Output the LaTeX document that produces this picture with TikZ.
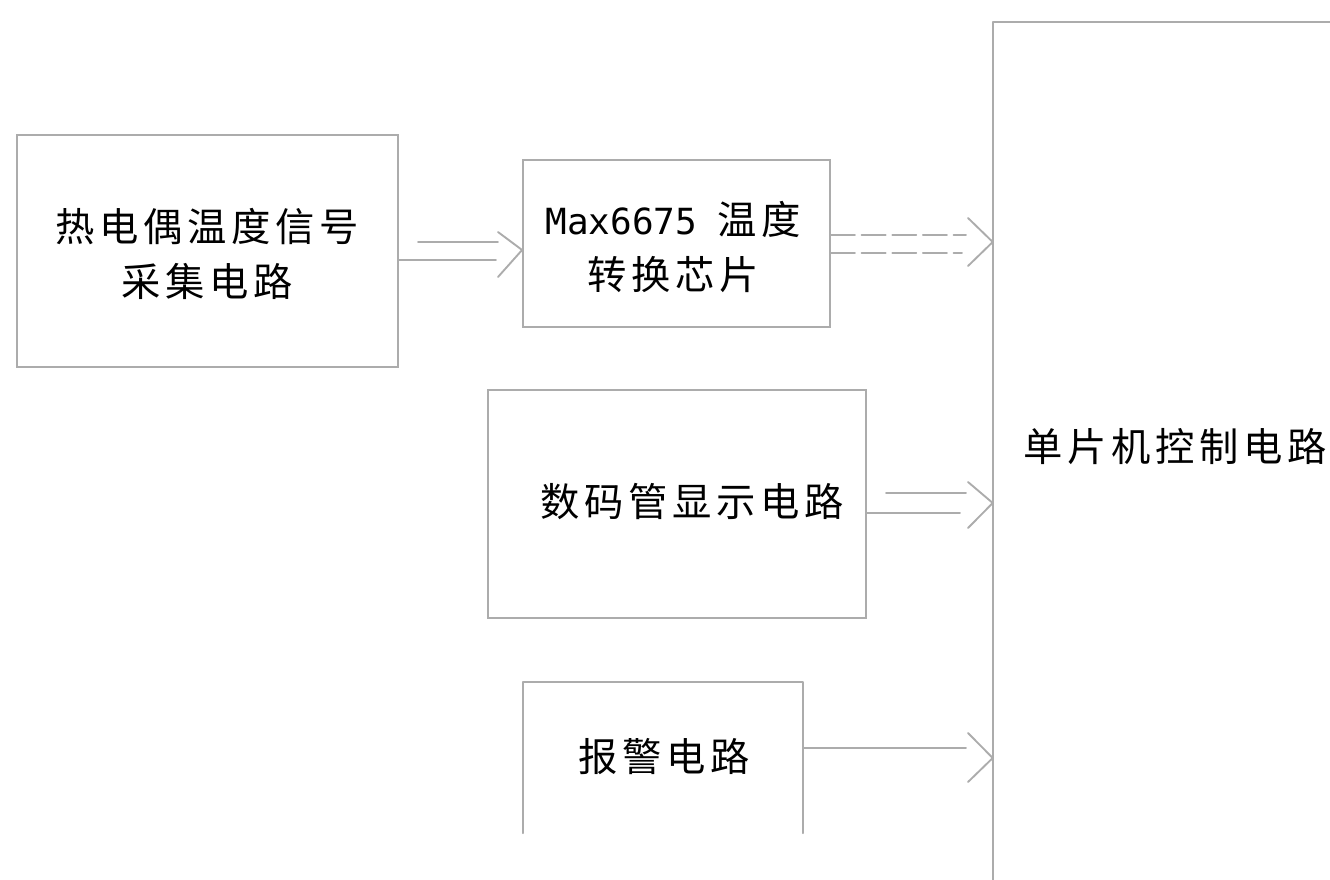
\documentclass[tikz,border=0pt]{standalone}
\usepackage{fontspec}
\newfontfamily\cjk{Noto Sans CJK SC}[LetterSpace=12]
\newfontfamily\mono{DejaVu Sans Mono}
\definecolor{linegray}{RGB}{172,172,172}
\tikzset{
  box/.style={draw=linegray, line width=1.4pt, inner sep=0pt},
  openbox/.style={inner sep=0pt},
  txt/.style={align=center, text=black, inner sep=0pt, font=\cjk\fontsize{29.5}{41.25}\selectfont},
  conn/.style={draw=linegray, line width=1.4pt, line cap=round, line join=round},
  dashconn/.style={conn, dash pattern=on 18pt off 5pt},
}
\begin{document}
\begin{tikzpicture}[x=0.75pt, y=-0.75pt]
\useasboundingbox (0,0) rectangle (1330,880);
\fill[white] (0,0) rectangle (1330,880);

% boxes
\node[box, minimum width=285.75pt, minimum height=174pt] (b1) at (207.5,251) {};
\node[box, minimum width=230.25pt, minimum height=125.25pt] (b2) at (676.5,243.5) {};
\node[box, minimum width=283.5pt, minimum height=171pt] (b3) at (677,504) {};
\node[openbox, minimum width=210pt, minimum height=113.25pt] (b4) at (663,757.5) {};
\node[openbox, minimum width=252.75pt, minimum height=643.5pt] (mcu) at (1161.5,451) {};

\draw[conn] (b4.south west) -- (b4.north west) -- (b4.north east) -- (b4.south east);
\draw[conn] (mcu.north east) -- (mcu.north west) -- (mcu.south west);

% texts
\node[txt] (t1) at (207,254) {热电偶温度信号\\采集电路};
\node[txt] (t2) at (673,247) {{\mono\fontsize{27}{41.25}\selectfont Max6675}\hspace{15pt}温度\\转换芯片};
\node[txt] (t3) at (692,502) {数码管显示电路};
\node[txt] (t4) at (664,757) {报警电路};
\node[txt] (t5) at (1175,447) {单片机控制电路};

% arrow b1 -> b2
\coordinate (a1t) at (b2.west |- 0,250);
\draw[conn] (418,242) -- (498,242);
\draw[conn] (b1.east |- 0,260) -- (496,260);
\draw[conn] (498,232) -- (a1t) -- (498,277);

% arrow b2 -> mcu (dashed)
\coordinate (a2t) at (mcu.west |- 0,242);
\draw[dashconn] (b2.east |- 0,235) -- (966,235);
\draw[dashconn] (b2.east |- 0,253) -- (962,253);
\draw[conn] (968,218) -- (a2t) -- (968,266);

% arrow b3 -> mcu
\coordinate (a3t) at (mcu.west |- 0,503);
\draw[conn] (886,493) -- (966,493);
\draw[conn] (b3.east |- 0,513) -- (960,513);
\draw[conn] (968,482) -- (a3t) -- (968,528);

% arrow b4 -> mcu
\coordinate (a4t) at (mcu.west |- 0,758);
\draw[conn] (b4.east |- 0,748) -- (966,748);
\draw[conn] (968,733) -- (a4t) -- (968,782);
\end{tikzpicture}
\end{document}
